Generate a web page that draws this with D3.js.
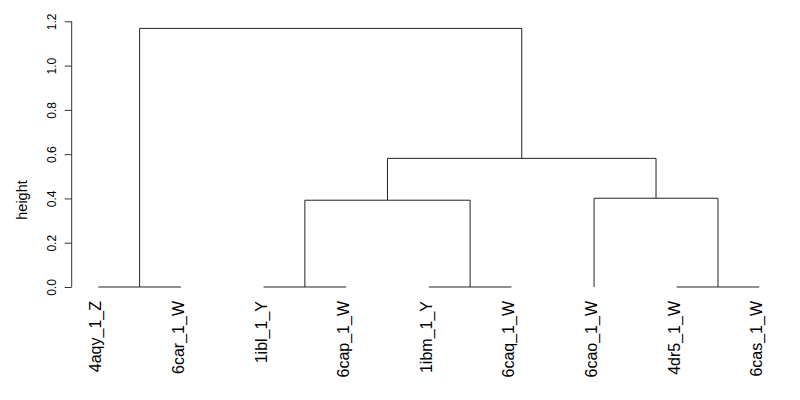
<!DOCTYPE html>
<html>
<head>
<meta charset="utf-8">
<script src="https://cdn.jsdelivr.net/npm/d3@7"></script>
<style>
  html, body { margin: 0; padding: 0; background: #fff; }
  svg { display: block; font-family: "Liberation Sans", Arial, Helvetica, sans-serif; }
</style>
</head>
<body>
<svg id="chart" width="800" height="400"></svg>
<script>
// Leaf labels in dendrogram order
const labels = ["4aqy_1_Z", "6car_1_W", "1ibl_1_Y", "6cap_1_W", "1ibm_1_Y", "6caq_1_W", "6cao_1_W", "4dr5_1_W", "6cas_1_W"];
// hclust-style merge table: negative = leaf (1-based), positive = earlier merge step
const mergeLeft  = [-1, -3, -5, -8, 2, -7, 5, 1];
const mergeRight = [-2, -4, -6, -9, 3, 4, 6, 7];
const mergeHeight = [0, 0, 0, 0, 0.392, 0.401, 0.581, 1.168];
const yTicks = [0.0, 0.2, 0.4, 0.6, 0.8, 1.0, 1.2];
const yLabel = "height";

const svg = d3.select("#chart");
const n = labels.length;

const x = d3.scaleLinear().domain([1, n]).range([98.3, 759.3]);
const y = d3.scaleLinear().domain([0, 1.2]).range([287, 21.3]);

// compute node positions
const nodeX = [], nodeH = [];
function childPos(c) {
  if (c < 0) return { x: x(-c), h: 0 };
  return { x: nodeX[c - 1], h: nodeH[c - 1] };
}
const segs = [];
mergeLeft.forEach((l, i) => {
  const a = childPos(l), b = childPos(mergeRight[i]);
  const h = mergeHeight[i];
  nodeX.push((a.x + b.x) / 2);
  nodeH.push(h);
  segs.push({ a, b, h });
});

svg.append("g")
  .selectAll("path")
  .data(segs)
  .join("path")
  .attr("d", d => `M${d.a.x},${y(d.a.h)}V${y(d.h)}H${d.b.x}V${y(d.b.h)}`)
  .attr("fill", "none")
  .attr("stroke", "#222")
  .attr("stroke-width", 1);

// y axis (R style, rotated labels)
const axis = d3.axisLeft(y).tickValues(yTicks).tickFormat(d3.format(".1f")).tickSize(7).tickPadding(0);
const gA = svg.append("g").attr("transform", "translate(71.7,0)").call(axis);
gA.select(".domain").attr("d", `M-0,${y(0)}V${y(1.2)}`).attr("stroke", "#333");
gA.selectAll(".tick line").attr("stroke", "#333");
gA.selectAll(".tick text")
  .attr("font-size", 12)
  .attr("font-family", "Liberation Sans, Arial, sans-serif")
  .attr("fill", "#000")
  .attr("text-anchor", "middle")
  .attr("dy", null)
  .attr("x", null)
  .attr("transform", "translate(-16,0) rotate(-90)");

svg.append("text")
  .attr("transform", "translate(27,200) rotate(-90)")
  .attr("text-anchor", "middle")
  .attr("font-size", 14.5)
  .attr("fill", "#000")
  .text(yLabel);

// leaf labels
svg.append("g")
  .selectAll("text")
  .data(labels)
  .join("text")
  .attr("transform", (d, i) => `translate(${x(i + 1) + 3},301) rotate(-90)`)
  .attr("text-anchor", "end")
  .attr("font-size", 16)
  .attr("fill", "#000")
  .text(d => d);
</script>
</body>
</html>
